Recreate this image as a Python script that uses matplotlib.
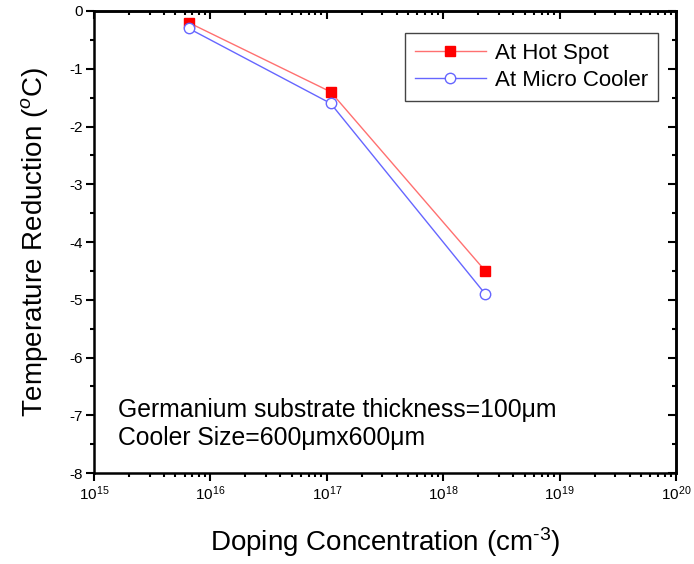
import matplotlib
matplotlib.use("Agg")
import matplotlib.pyplot as plt
import numpy as np
from matplotlib.ticker import FuncFormatter

plt.rcParams["font.family"] = ["Liberation Sans", "DejaVu Sans"]
plt.rcParams["mathtext.fontset"] = "custom"
plt.rcParams["mathtext.rm"] = "Liberation Sans"
plt.rcParams["mathtext.it"] = "Liberation Sans:italic"
plt.rcParams["axes.unicode_minus"] = False

doping = [6.5e15, 1.08e17, 2.3e18]
hot_spot = [-0.2, -1.4, -4.5]
micro_cooler = [-0.3, -1.6, -4.9]
x_decades = [15, 16, 17, 18, 19, 20]
y_ticks = [0, -1, -2, -3, -4, -5, -6, -7, -8]
y_minor = [-0.5, -1.5, -2.5, -3.5, -4.5, -5.5, -6.5, -7.5]

# x is drawn in decades (log10 of the doping) so the log ticks render reliably
x_pos = np.log10(doping)
x_minor = [d + np.log10(k) for d in x_decades[:-1] for k in range(2, 10)]

fig = plt.figure(figsize=(6.94, 5.64), dpi=100)
ax = fig.add_axes([0.1354, 0.1613, 0.8386, 0.8192])

ax.plot(x_pos, hot_spot, "-s", color="#FF7070", lw=1.0, markersize=7,
        markerfacecolor="#FF0000", markeredgecolor="#FF0000", label="At Hot Spot")
ax.plot(x_pos, micro_cooler, "-o", color="#6666FF", lw=1.0, markersize=7.5,
        markerfacecolor="white", markeredgecolor="#6666FF", markeredgewidth=1.0,
        label="At Micro Cooler")

ax.set_xlim(x_decades[0], x_decades[-1])
ax.set_ylim(-8, 0)
ax.set_xticks(x_decades)
ax.set_xticks(x_minor, minor=True)
ax.xaxis.set_major_formatter(FuncFormatter(lambda v, p: "$10^{%d}$" % round(v)))
ax.set_yticks(y_ticks)
ax.set_yticks(y_minor, minor=True)
ax.tick_params(which="major", direction="out", length=6, width=1.5, labelsize=11, pad=2)
ax.tick_params(which="minor", direction="out", length=3, width=1.5)

# mirrored ticks on top/right pointing inward
axt = ax.secondary_xaxis("top")
axt.set_xticks(x_decades)
axt.set_xticks(x_minor, minor=True)
axt.tick_params(which="major", direction="in", length=6, width=1.5, labeltop=False)
axt.tick_params(which="minor", direction="in", length=3, width=1.5)
axr = ax.secondary_yaxis("right")
axr.set_yticks(y_ticks)
axr.set_yticks(y_minor, minor=True)
axr.tick_params(which="major", direction="in", length=6, width=1.5, labelright=False)
axr.tick_params(which="minor", direction="in", length=3, width=1.5)

for s in ax.spines.values():
    s.set_linewidth(1.8)
axt.spines["top"].set_linewidth(1.8)
axr.spines["right"].set_linewidth(1.8)

ax.set_xlabel("Doping Concentration (cm$^{\\text{-}3}$)", fontsize=20, labelpad=16)
ax.set_ylabel("Temperature Reduction ($^{o}$C)", fontsize=20, labelpad=14)

ax.text(0.042, 0.136, "Germanium substrate thickness=100\u03bcm", transform=ax.transAxes,
        fontsize=17.8, ha="left", va="center")
ax.text(0.042, 0.076, "Cooler Size=600\u03bcmx600\u03bcm", transform=ax.transAxes,
        fontsize=17.8, ha="left", va="center")

leg = ax.legend(loc="upper right", bbox_to_anchor=(0.969, 0.952), fontsize=16,
                frameon=True, fancybox=False, edgecolor="#444444", framealpha=1,
                handlelength=3.2, borderpad=0.45, labelspacing=0.25, handletextpad=0.4,
                borderaxespad=0)
leg.get_frame().set_linewidth(1.0)

fig.savefig("out.png", dpi=100)
